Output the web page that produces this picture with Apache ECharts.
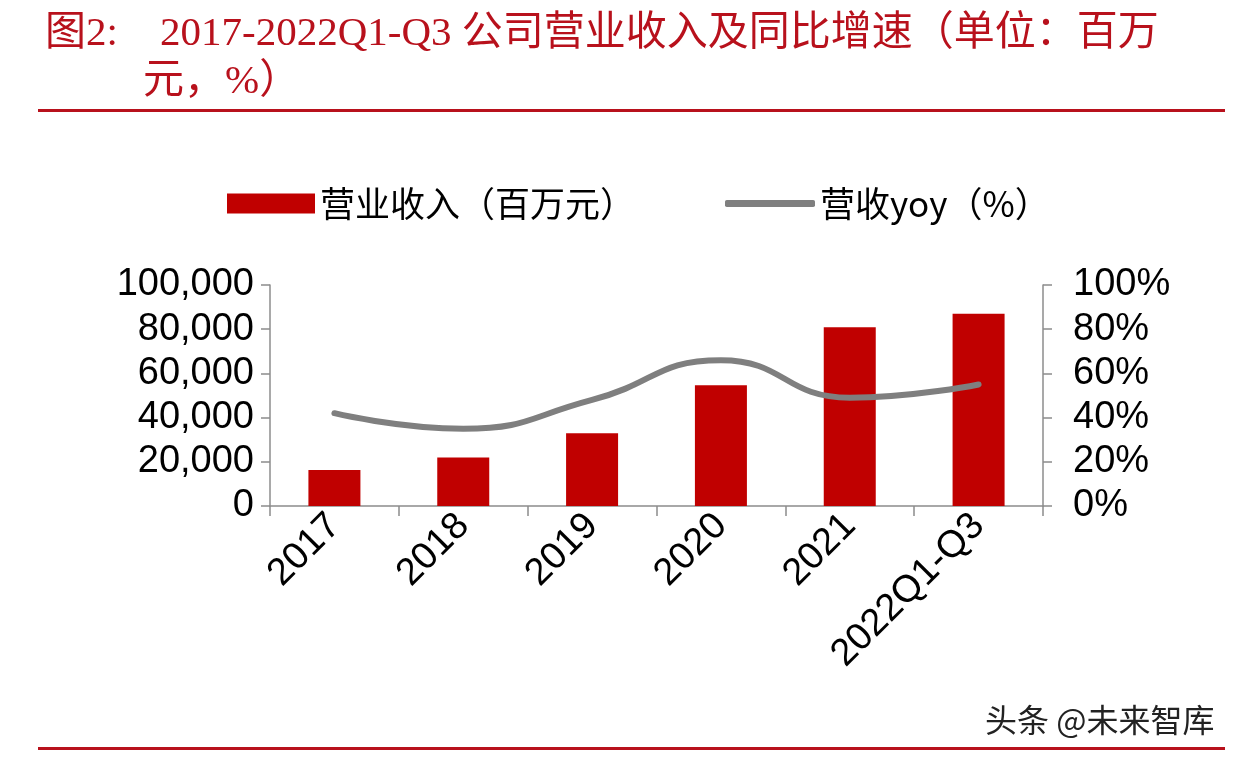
<!DOCTYPE html>
<html><head><meta charset="utf-8">
<script src="https://cdn.jsdelivr.net/npm/echarts@6/dist/echarts.min.js"></script>
<style>html,body{margin:0;padding:0;background:#fff}#c{width:1236px;height:762px}</style>
</head><body><div id="c"></div>
<script>
const categories = ['2017','2018','2019','2020','2021','2022Q1-Q3'];
const revenue = [16300, 21900, 32900, 54600, 80900, 87000];
const yoy = [42, 35, 48, 66, 49, 55];
const leftTicks = [0, 20000, 40000, 60000, 80000, 100000];
const rightTicks = [0, 20, 40, 60, 80, 100];
const seriesNames = ['营业收入（百万元）', '营收yoy（%）'];

const chart = echarts.init(document.getElementById('c'));
const red = '#c00000';
const axisGray = '#8c8c8c';
const labelFont = {fontFamily: 'Liberation Sans, Arial, sans-serif', fontSize: 38, color: '#000'};
const titleFont = {fontFamily: 'Liberation Serif, Noto Sans CJK SC', fontSize: 41, fontWeight: 'normal', color: '#b8111c'};
chart.setOption({
  animation: false,
  backgroundColor: '#fff',
  title: [
    {text: '图2:', left: 40, top: 9, textStyle: titleFont},
    {text: '2017-2022Q1-Q3 公司营业收入及同比增速（单位：百万', left: 155, top: 9, textStyle: titleFont},
    {text: '元，%）', left: 138, top: 57, textStyle: titleFont}
  ],
  graphic: [
    {type: 'rect', shape: {x: 38, y: 109, width: 1187, height: 3}, style: {fill: '#b8111c'}},
    {type: 'rect', shape: {x: 38, y: 747, width: 1187, height: 3}, style: {fill: '#b8111c'}},
    {type: 'text', left: 985, top: 704, style: {text: '头条 @未来智库', font: '32px "Noto Sans CJK SC"', fill: '#222'}}
  ],
  legend: [
    {left: 222, top: 181, itemWidth: 88, itemHeight: 20,
     textStyle: {fontFamily: 'Noto Sans CJK SC', fontSize: 35, color: '#000'},
     data: [{name: seriesNames[0], icon: 'rect'}]},
    {left: 720, top: 181, itemWidth: 90, itemHeight: 7,
     textStyle: {fontFamily: 'Noto Sans CJK SC', fontSize: 35, color: '#000'},
     data: [{name: seriesNames[1], icon: 'roundRect', itemStyle: {color: '#7f7f7f'}}]}
  ],
  grid: {left: 270, right: 193, top: 285, bottom: 256, containLabel: false},
  xAxis: {
    type: 'category', data: categories,
    axisLine: {lineStyle: {color: axisGray, width: 1.5}},
    axisTick: {show: true, length: 10, inside: false, lineStyle: {color: axisGray, width: 1.5}},
    axisLabel: Object.assign({rotate: 45, margin: 14, interval: 0}, labelFont)
  },
  yAxis: [
    {type: 'value', min: 0, max: 100000, interval: 20000, splitLine: {show: false},
     axisLine: {show: true, lineStyle: {color: axisGray, width: 1.5}},
     axisTick: {show: true, length: 9, lineStyle: {color: axisGray, width: 1.5}},
     axisLabel: Object.assign({margin: 16, formatter: v => v.toLocaleString('en-US')}, labelFont)},
    {type: 'value', min: 0, max: 100, interval: 20, position: 'right', splitLine: {show: false},
     axisLine: {show: true, lineStyle: {color: axisGray, width: 1.5}},
     axisTick: {show: true, length: 9, lineStyle: {color: axisGray, width: 1.5}},
     axisLabel: Object.assign({margin: 30, formatter: v => v + '%'}, labelFont)}
  ],
  series: [
    {name: seriesNames[0], type: 'bar', data: revenue, barWidth: 52, itemStyle: {color: red}},
    {name: seriesNames[1], type: 'line', yAxisIndex: 1, data: yoy, smooth: 0.5, symbol: 'none', showSymbol: false,
     lineStyle: {color: '#7f7f7f', width: 6, cap: 'round'}, itemStyle: {color: '#7f7f7f'}}
  ]
});
</script></body></html>
